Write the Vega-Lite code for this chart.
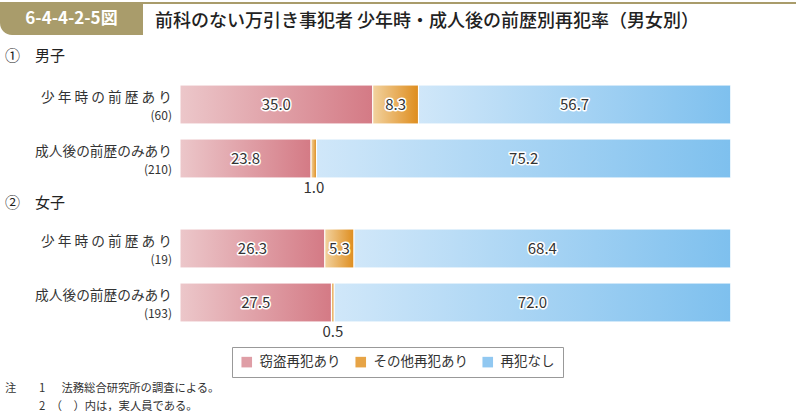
{
  "$schema": "https://vega.github.io/schema/vega-lite/v6.json",
  "padding": 0,
  "background": "white",
  "config": {
    "font": "Noto Sans CJK JP",
    "view": {"stroke": null},
    "legend": {
      "orient": "none", "legendX": 232, "legendY": 345, "direction": "horizontal",
      "symbolType": "square", "symbolSize": 112, "symbolStrokeWidth": 0, "symbolOpacity": 1,
      "labelFontSize": 13.5, "labelColor": "#333", "labelOffset": 6,
      "strokeColor": "#999", "padding": 8, "columnPadding": 13
    }
  },
  "title": {
    "text": ["注\u3000\u30001\u3000\u00a0\u00a0法務総合研究所の調査による。", "\u200b\u3000\u3000\u30002\u3000（\u3000）内は，実人員である。"],
    "orient": "bottom", "anchor": "start", "frame": "bounds", "dx": 5, "offset": 5,
    "fontSize": 11.3, "fontWeight": "normal", "lineHeight": 18, "color": "#333", "baseline": "top"
  },
  "datasets": {
    "bars": [
      {"sex": "男子", "group": "少年時の前歴あり", "cnt": "(60)", "cat": "窃盗再犯あり", "k": 1, "value": 35.0},
      {"sex": "男子", "group": "少年時の前歴あり", "cnt": "(60)", "cat": "その他再犯あり", "k": 2, "value": 8.3},
      {"sex": "男子", "group": "少年時の前歴あり", "cnt": "(60)", "cat": "再犯なし", "k": 3, "value": 56.7},
      {"sex": "男子", "group": "成人後の前歴のみあり", "cnt": "(210)", "cat": "窃盗再犯あり", "k": 1, "value": 23.8},
      {"sex": "男子", "group": "成人後の前歴のみあり", "cnt": "(210)", "cat": "その他再犯あり", "k": 2, "value": 1.0},
      {"sex": "男子", "group": "成人後の前歴のみあり", "cnt": "(210)", "cat": "再犯なし", "k": 3, "value": 75.2},
      {"sex": "女子", "group": "少年時の前歴あり", "cnt": "(19)", "cat": "窃盗再犯あり", "k": 1, "value": 26.3},
      {"sex": "女子", "group": "少年時の前歴あり", "cnt": "(19)", "cat": "その他再犯あり", "k": 2, "value": 5.3},
      {"sex": "女子", "group": "少年時の前歴あり", "cnt": "(19)", "cat": "再犯なし", "k": 3, "value": 68.4},
      {"sex": "女子", "group": "成人後の前歴のみあり", "cnt": "(193)", "cat": "窃盗再犯あり", "k": 1, "value": 27.5},
      {"sex": "女子", "group": "成人後の前歴のみあり", "cnt": "(193)", "cat": "その他再犯あり", "k": 2, "value": 0.5},
      {"sex": "女子", "group": "成人後の前歴のみあり", "cnt": "(193)", "cat": "再犯なし", "k": 3, "value": 72.0}
    ]
  },
  "spacing": 13.5,
  "vconcat": [
    {
      "spacing": 0,
      "hconcat": [
        {
          "width": 143, "height": 33,
          "data": {"values": [{"fig": "6-4-4-2-5図"}]},
          "layer": [
            {"mark": {"type": "rect", "color": "#a99c6b", "cornerRadiusBottomLeft": 12}, "encoding": {}},
            {"mark": {"type": "text", "color": "white", "fontSize": 17, "fontWeight": "bold"}, "encoding": {"text": {"field": "fig"}}}
          ]
        },
        {
          "width": 653, "height": 2,
          "view": {"fill": "#a99c6b", "stroke": null},
          "data": {"values": [{"a": 1}]},
          "mark": {"type": "point", "opacity": 0},
          "encoding": {},
          "title": {
            "text": "前科のない万引き事犯者 少年時・成人後の前歴別再犯率（男女別）",
            "orient": "bottom", "anchor": "start", "frame": "group", "dx": 12, "offset": 7,
            "fontSize": 18, "fontWeight": 500, "color": "#222", "baseline": "top"
          }
        }
      ]
    },
    {
      "spacing": -1,
      "vconcat": [
        {
          "width": 796, "height": 108,
          "title": {"text": "①\u3000男子", "anchor": "start", "frame": "group", "dx": 5, "offset": 14, "fontSize": 15, "fontWeight": "normal", "color": "#222"},
          "data": {"name": "bars"},
          "transform": [{"filter": "datum.sex == '男子'"}],
          "encoding": {
            "y": {"field": "group", "type": "nominal", "sort": ["少年時の前歴あり", "成人後の前歴のみあり"], "axis": null, "scale": {"paddingInner": 0.28, "paddingOuter": 0.14}}
          },
          "layer": [
            {"mark": {"type": "bar"}, "encoding": {
              "x": {"field": "value", "type": "quantitative", "stack": "zero", "scale": {"domain": [-32.686, 111.857], "nice": false, "zero": false}, "axis": null},
              "color": {"field": "cat", "type": "nominal", "title": null, "scale": {"domain": ["窃盗再犯あり", "その他再犯あり", "再犯なし"], "range": ["#df9ea6", "#e7a446", "#91c8f1"]}},
              "order": {"field": "k", "type": "quantitative"}}},
            {"mark": {"type": "bar", "stroke": "white", "strokeWidth": 1}, "encoding": {
              "x": {"field": "value", "type": "quantitative", "stack": "zero"},
              "detail": {"field": "cat"},
              "order": {"field": "k", "type": "quantitative"},
              "fill": {"condition": [
                {"test": "datum.k == 1", "value": {"gradient": "linear", "x1": 0, "y1": 0, "x2": 1, "y2": 0, "stops": [{"offset": 0, "color": "#ecc7ca"}, {"offset": 1, "color": "#d47a85"}]}},
                {"test": "datum.k == 2", "value": {"gradient": "linear", "x1": 0, "y1": 0, "x2": 1, "y2": 0, "stops": [{"offset": 0, "color": "#f2d29f"}, {"offset": 1, "color": "#de8d1e"}]}}],
                "value": {"gradient": "linear", "x1": 0, "y1": 0, "x2": 1, "y2": 0, "stops": [{"offset": 0, "color": "#d0e7f9"}, {"offset": 1, "color": "#7ec0ee"}]}}}},
            {"mark": {"type": "text", "fontSize": 15, "fill": "white", "stroke": "white", "strokeWidth": 3, "strokeJoin": "round"}, "encoding": {
              "x": {"field": "value", "type": "quantitative", "stack": "zero", "bandPosition": 0.5},
              "detail": {"field": "cat"}, "order": {"field": "k", "type": "quantitative"},
              "text": {"condition": {"test": "datum.value >= 2", "field": "value", "format": ".1f"}, "value": ""}}},
            {"mark": {"type": "text", "fontSize": 15, "fill": "#333"}, "encoding": {
              "x": {"field": "value", "type": "quantitative", "stack": "zero", "bandPosition": 0.5},
              "detail": {"field": "cat"}, "order": {"field": "k", "type": "quantitative"},
              "text": {"condition": {"test": "datum.value >= 2", "field": "value", "format": ".1f"}, "value": ""}}},
            {"mark": {"type": "text", "fontSize": 15, "fill": "#333", "baseline": "middle", "dy": 10.5}, "encoding": {
              "x": {"field": "value", "type": "quantitative", "stack": "zero", "bandPosition": 0.5},
              "y": {"field": "group", "type": "nominal", "sort": ["少年時の前歴あり", "成人後の前歴のみあり"], "bandPosition": 1},
              "detail": {"field": "cat"}, "order": {"field": "k", "type": "quantitative"},
              "text": {"condition": {"test": "datum.value < 2", "field": "value", "format": ".1f"}, "value": ""}}},
            {"transform": [{"filter": "datum.k == 1"}], "mark": {"type": "text", "fontSize": 13.7, "fill": "#333", "align": "right", "dy": -6.5}, "encoding": {
              "x": {"datum": -1.453},
              "text": {"condition": {"test": "datum.group == '少年時の前歴あり'", "value": "少 年 時 の 前 歴 あ り"}, "field": "group"}}},
            {"transform": [{"filter": "datum.k == 1"}], "mark": {"type": "text", "fontSize": 12, "fill": "#333", "align": "right", "dy": 11.5}, "encoding": {
              "x": {"datum": -1.453},
              "text": {"field": "cnt"}}}
          ]
        },
        {
          "width": 796, "height": 108,
          "title": {"text": "②\u3000女子", "anchor": "start", "frame": "group", "dx": 5, "offset": 11, "fontSize": 15, "fontWeight": "normal", "color": "#222"},
          "data": {"name": "bars"},
          "transform": [{"filter": "datum.sex == '女子'"}],
          "encoding": {
            "y": {"field": "group", "type": "nominal", "sort": ["少年時の前歴あり", "成人後の前歴のみあり"], "axis": null, "scale": {"paddingInner": 0.28, "paddingOuter": 0.14}}
          },
          "layer": [
            {"mark": {"type": "bar"}, "encoding": {
              "x": {"field": "value", "type": "quantitative", "stack": "zero", "scale": {"domain": [-32.686, 111.857], "nice": false, "zero": false}, "axis": null},
              "color": {"field": "cat", "type": "nominal", "title": null, "scale": {"domain": ["窃盗再犯あり", "その他再犯あり", "再犯なし"], "range": ["#df9ea6", "#e7a446", "#91c8f1"]}},
              "order": {"field": "k", "type": "quantitative"}}},
            {"mark": {"type": "bar", "stroke": "white", "strokeWidth": 1}, "encoding": {
              "x": {"field": "value", "type": "quantitative", "stack": "zero"},
              "detail": {"field": "cat"},
              "order": {"field": "k", "type": "quantitative"},
              "fill": {"condition": [
                {"test": "datum.k == 1", "value": {"gradient": "linear", "x1": 0, "y1": 0, "x2": 1, "y2": 0, "stops": [{"offset": 0, "color": "#ecc7ca"}, {"offset": 1, "color": "#d47a85"}]}},
                {"test": "datum.k == 2", "value": {"gradient": "linear", "x1": 0, "y1": 0, "x2": 1, "y2": 0, "stops": [{"offset": 0, "color": "#f2d29f"}, {"offset": 1, "color": "#de8d1e"}]}}],
                "value": {"gradient": "linear", "x1": 0, "y1": 0, "x2": 1, "y2": 0, "stops": [{"offset": 0, "color": "#d0e7f9"}, {"offset": 1, "color": "#7ec0ee"}]}}}},
            {"mark": {"type": "text", "fontSize": 15, "fill": "white", "stroke": "white", "strokeWidth": 3, "strokeJoin": "round"}, "encoding": {
              "x": {"field": "value", "type": "quantitative", "stack": "zero", "bandPosition": 0.5},
              "detail": {"field": "cat"}, "order": {"field": "k", "type": "quantitative"},
              "text": {"condition": {"test": "datum.value >= 2", "field": "value", "format": ".1f"}, "value": ""}}},
            {"mark": {"type": "text", "fontSize": 15, "fill": "#333"}, "encoding": {
              "x": {"field": "value", "type": "quantitative", "stack": "zero", "bandPosition": 0.5},
              "detail": {"field": "cat"}, "order": {"field": "k", "type": "quantitative"},
              "text": {"condition": {"test": "datum.value >= 2", "field": "value", "format": ".1f"}, "value": ""}}},
            {"mark": {"type": "text", "fontSize": 15, "fill": "#333", "baseline": "middle", "dy": 10.5}, "encoding": {
              "x": {"field": "value", "type": "quantitative", "stack": "zero", "bandPosition": 0.5},
              "y": {"field": "group", "type": "nominal", "sort": ["少年時の前歴あり", "成人後の前歴のみあり"], "bandPosition": 1},
              "detail": {"field": "cat"}, "order": {"field": "k", "type": "quantitative"},
              "text": {"condition": {"test": "datum.value < 2", "field": "value", "format": ".1f"}, "value": ""}}},
            {"transform": [{"filter": "datum.k == 1"}], "mark": {"type": "text", "fontSize": 13.7, "fill": "#333", "align": "right", "dy": -6.5}, "encoding": {
              "x": {"datum": -1.453},
              "text": {"condition": {"test": "datum.group == '少年時の前歴あり'", "value": "少 年 時 の 前 歴 あ り"}, "field": "group"}}},
            {"transform": [{"filter": "datum.k == 1"}], "mark": {"type": "text", "fontSize": 12, "fill": "#333", "align": "right", "dy": 11.5}, "encoding": {
              "x": {"datum": -1.453},
              "text": {"field": "cnt"}}}
          ]
        }
      ]
    }
  ]
}
